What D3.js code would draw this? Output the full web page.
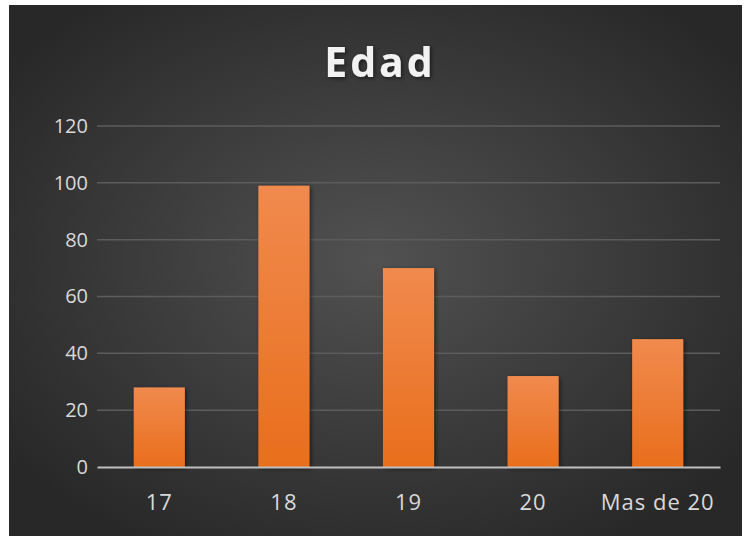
<!DOCTYPE html>
<html>
<head>
<meta charset="utf-8">
<script src="https://cdn.jsdelivr.net/npm/d3@7"></script>
<style>
  body { margin: 0; background: #ffffff; }
  svg { display: block; }
</style>
</head>
<body>
<div id="chart"></div>
<script>
// data
var categories = ["17", "18", "19", "20", "Mas de 20"];
var values = [28, 99, 70, 32, 45];
var yTicks = [0, 20, 40, 60, 80, 100, 120];
var title = "Edad";

var W = 744, H = 536;
var margin = {top: 126, right: 24, bottom: 69, left: 97};
var width = W - margin.left - margin.right,
    height = H - margin.top - margin.bottom;

var svg = d3.select("#chart")
  .append("svg")
    .attr("width", W)
    .attr("height", H);

var defs = svg.append("defs");

// dark background with lighter centre
var bg = defs.append("radialGradient")
  .attr("id", "bgGrad")
  .attr("cx", "50%").attr("cy", "48%").attr("r", "62%");
bg.append("stop").attr("offset", "0%").attr("stop-color", "#515151");
bg.append("stop").attr("offset", "100%").attr("stop-color", "#282828");

// bar gradient: lighter top, deeper orange bottom
var barGrad = defs.append("linearGradient")
  .attr("id", "barGrad")
  .attr("x1", 0).attr("y1", 0).attr("x2", 0).attr("y2", 1);
barGrad.append("stop").attr("offset", "0%").attr("stop-color", "#f08a4e");
barGrad.append("stop").attr("offset", "100%").attr("stop-color", "#e96e1c");

var shadow = defs.append("filter").attr("id", "shadow")
  .attr("x", "-20%").attr("y", "-20%").attr("width", "150%").attr("height", "150%");
shadow.append("feDropShadow")
  .attr("dx", 1.5).attr("dy", 1.5).attr("stdDeviation", 2)
  .attr("flood-color", "#000").attr("flood-opacity", 0.55);

svg.append("rect")
  .attr("x", 9).attr("y", 5)
  .attr("width", W - 11).attr("height", H - 5)
  .attr("fill", "url(#bgGrad)");

svg.append("text")
  .attr("x", 380)
  .attr("y", 77)
  .attr("text-anchor", "middle")
  .attr("font-family", "'Open Sans', sans-serif")
  .attr("font-weight", "bold")
  .attr("font-size", "41px")
  .attr("letter-spacing", "3px")
  .attr("fill", "#f2f2f2")
  .attr("filter", "url(#shadow)")
  .text(title);

var g = svg.append("g")
  .attr("transform", "translate(" + margin.left + "," + margin.top + ")");

var x = d3.scaleBand()
  .domain(categories)
  .range([0, width])
  .paddingInner(0.59)
  .paddingOuter(0.295);

var y = d3.scaleLinear()
  .domain([0, 120])
  .range([height, 0]);

// gridlines
g.append("g")
  .selectAll("line")
  .data(yTicks.filter(d => d > 0))
  .enter()
  .append("line")
    .attr("x1", 0)
    .attr("x2", width)
    .attr("y1", d => y(d))
    .attr("y2", d => y(d))
    .attr("stroke", "#5c5c5c")
    .attr("stroke-width", 1.5);

// y labels
var yAxis = g.append("g")
  .call(d3.axisLeft(y).tickValues(yTicks).tickSize(0).tickPadding(9));
yAxis.select(".domain").remove();
yAxis.selectAll("text")
  .attr("font-family", "'Open Sans', sans-serif")
  .attr("font-size", "20px")
  .attr("fill", "#d9d9d9");

// bars
g.append("g")
  .selectAll("rect")
  .data(values)
  .enter()
  .append("rect")
    .attr("x", (d, i) => x(categories[i]))
    .attr("y", d => y(d))
    .attr("width", x.bandwidth())
    .attr("height", d => height - y(d))
    .attr("fill", "url(#barGrad)")
    .attr("filter", "url(#shadow)");

// x axis
var xAxis = g.append("g")
  .attr("transform", "translate(0," + height + ")")
  .call(d3.axisBottom(x).tickSize(0).tickPadding(27));
xAxis.select(".domain")
  .attr("stroke", "#bfbfbf")
  .attr("stroke-width", 2);
xAxis.selectAll("text")
  .attr("font-family", "'Open Sans', sans-serif")
  .attr("font-size", "22px")
  .attr("letter-spacing", "1px")
  .attr("fill", "#d9d9d9");
</script>
</body>
</html>
